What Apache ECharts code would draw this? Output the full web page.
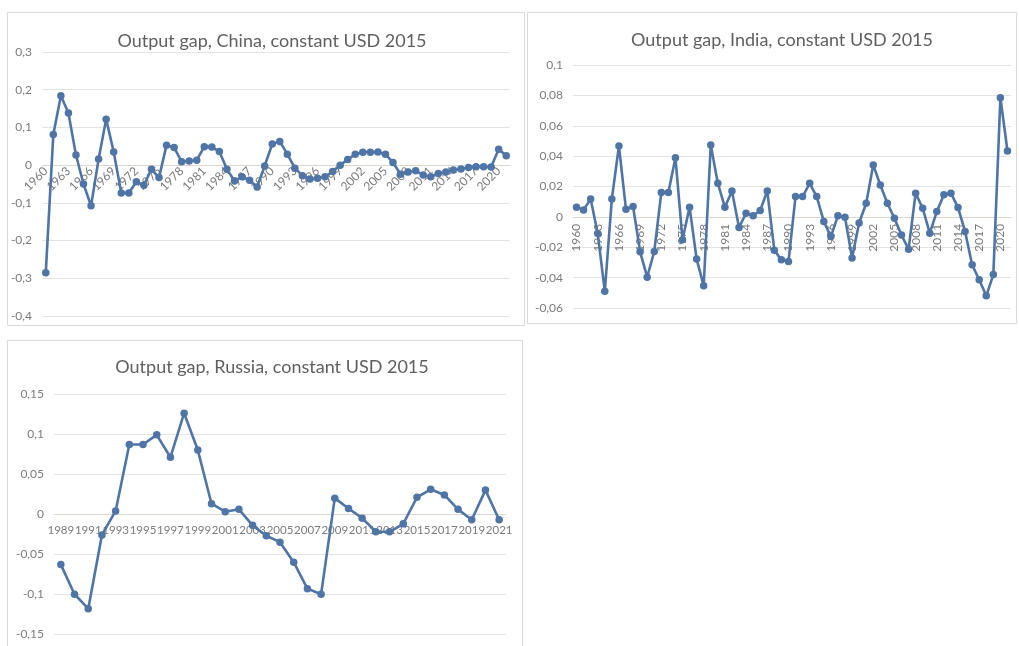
<!DOCTYPE html>
<html>
<head>
<meta charset="utf-8">
<title>Output gap</title>
<script src="https://cdn.jsdelivr.net/npm/echarts@6/dist/echarts.min.js"></script>
<style>
  html, body { margin: 0; padding: 0; background: #ffffff; }
  #chart { width: 1019px; height: 646px; }
</style>
</head>
<body>
<div id="chart"></div>
<script>
// Output gap estimates (share of potential output), constant USD 2015
const yearsLong = [
  '1960','1961','1962','1963','1964','1965','1966','1967','1968','1969',
  '1970','1971','1972','1973','1974','1975','1976','1977','1978','1979',
  '1980','1981','1982','1983','1984','1985','1986','1987','1988','1989',
  '1990','1991','1992','1993','1994','1995','1996','1997','1998','1999',
  '2000','2001','2002','2003','2004','2005','2006','2007','2008','2009',
  '2010','2011','2012','2013','2014','2015','2016','2017','2018','2019',
  '2020','2021'
];
const yearsRussia = [
  '1989','1990','1991','1992','1993','1994','1995','1996','1997','1998',
  '1999','2000','2001','2002','2003','2004','2005','2006','2007','2008',
  '2009','2010','2011','2012','2013','2014','2015','2016','2017','2018',
  '2019','2020','2021'
];
const chinaGap = [
  -0.285, 0.081, 0.184, 0.138, 0.027, -0.050, -0.108, 0.016, 0.122, 0.035,
  -0.074, -0.074, -0.044, -0.053, -0.011, -0.033, 0.053, 0.047, 0.009, 0.011,
  0.013, 0.049, 0.048, 0.036, -0.011, -0.042, -0.031, -0.040, -0.058, -0.002,
  0.056, 0.063, 0.029, -0.008, -0.028, -0.037, -0.035, -0.031, -0.017, 0.000,
  0.015, 0.029, 0.034, 0.034, 0.035, 0.029, 0.007, -0.024, -0.018, -0.015,
  -0.026, -0.031, -0.022, -0.018, -0.013, -0.010, -0.006, -0.004, -0.004, -0.005,
  0.042, 0.025
];
const indiaGap = [
  0.0064, 0.0046, 0.0118, -0.0110, -0.0490, 0.0118, 0.0467, 0.0050, 0.0068, -0.0230,
  -0.0397, -0.0228, 0.0160, 0.0160, 0.0390, -0.0150, 0.0064, -0.0278, -0.0454, 0.0474,
  0.0221, 0.0064, 0.0171, -0.0070, 0.0024, 0.0007, 0.0042, 0.0171, -0.0220, -0.0283,
  -0.0294, 0.0134, 0.0134, 0.0221, 0.0134, -0.0030, -0.0130, 0.0007, -0.0002, -0.0270,
  -0.0040, 0.0090, 0.0342, 0.0210, 0.0090, -0.0009, -0.0120, -0.0213, 0.0156, 0.0057,
  -0.0107, 0.0035, 0.0145, 0.0156, 0.0061, -0.0096, -0.0316, -0.0414, -0.0520, -0.0380,
  0.0785, 0.0434
];
const russiaGap = [
  -0.063, -0.100, -0.118, -0.026, 0.004, 0.087, 0.087, 0.099, 0.071, 0.126,
  0.080, 0.013, 0.003, 0.006, -0.014, -0.027, -0.035, -0.060, -0.093, -0.100,
  0.020, 0.007, -0.005, -0.022, -0.022, -0.012, 0.021, 0.031, 0.024, 0.006,
  -0.007, 0.030, -0.007
];
const titles = [
  'Output gap, China, constant USD 2015',
  'Output gap, India, constant USD 2015',
  'Output gap, Russia, constant USD 2015'
];
// Value-axis ranges: [min, max, step]
const chinaRange = [-0.4, 0.3, 0.1];
const indiaRange = [-0.06, 0.1, 0.02];
const russiaRange = [-0.15, 0.15, 0.05];

const FONT = 'Lato, "Open Sans", sans-serif';
const LINE = '#4f74a6';
const GRID_LINE = '#e4e4e4';
const AXIS_LINE = '#ddd6cf';
const LABEL = '#7b7b7b';
const TITLE = '#5f5f5f';

// Panel plot areas
const grids = [
  { left: 42, top: 52, width: 468, height: 264 },
  { left: 573, top: 65, width: 438, height: 243 },
  { left: 54, top: 394, width: 452, height: 240.3 }
];

// Decimal comma, general number format
function commaFmt(v) {
  return String(+v.toFixed(4)).replace('.', ',');
}

function yAxis(gridIndex, range) {
  return {
    type: 'value', gridIndex, min: range[0], max: range[1], interval: range[2],
    axisLine: { show: false }, axisTick: { show: false },
    splitLine: { lineStyle: { color: GRID_LINE, width: 1 } },
    axisLabel: { formatter: commaFmt, color: LABEL, fontSize: 12, fontFamily: FONT, margin: 10 }
  };
}

// Category axis drawn across the zero level of the value axis
function xAxis(gridIndex, data, range, labelOpts) {
  const h = grids[gridIndex].height;
  const zeroFromBottom = h * (0 - range[0]) / (range[1] - range[0]);
  return {
    type: 'category', gridIndex, data, boundaryGap: true,
    position: 'bottom', offset: -zeroFromBottom,
    axisLine: { onZero: false, lineStyle: { color: AXIS_LINE, width: 1 } },
    axisTick: { show: false },
    axisLabel: Object.assign({ color: LABEL, fontSize: 12, fontFamily: FONT, hideOverlap: false }, labelOpts)
  };
}

function lineSeries(idx, data) {
  return {
    type: 'line', xAxisIndex: idx, yAxisIndex: idx, data,
    symbol: 'circle', symbolSize: 7.5, showSymbol: true, showAllSymbol: true,
    lineStyle: { color: LINE, width: 2.6 },
    itemStyle: { color: LINE },
    z: 3,
    animation: false
  };
}

function titleAt(text, cx, top) {
  return {
    text, left: cx, top, textAlign: 'center',
    textStyle: { color: TITLE, fontSize: 18, fontWeight: 'normal', fontFamily: FONT }
  };
}

const chart = echarts.init(document.getElementById('chart'), null, { renderer: 'canvas' });
chart.setOption({
  backgroundColor: '#ffffff',
  animation: false,
  title: [
    titleAt(titles[0], 267, 27),
    titleAt(titles[1], 777, 26),
    titleAt(titles[2], 267, 353)
  ],
  graphic: [
    { type: 'rect', shape: { x: 7.5, y: 12.5, width: 517, height: 313 }, style: { fill: 'none', stroke: '#d9d9d9', lineWidth: 1 }, silent: true },
    { type: 'rect', shape: { x: 527.5, y: 12.5, width: 489, height: 311 }, style: { fill: 'none', stroke: '#d9d9d9', lineWidth: 1 }, silent: true },
    { type: 'rect', shape: { x: 7.5, y: 340.5, width: 515, height: 320 }, style: { fill: 'none', stroke: '#d9d9d9', lineWidth: 1 }, silent: true }
  ],
  grid: grids,
  xAxis: [
    xAxis(0, yearsLong, chinaRange, { interval: 2, rotate: 45, margin: 4 }),
    xAxis(1, yearsLong, indiaRange, { interval: 2, rotate: 90, margin: 7 }),
    xAxis(2, yearsRussia, russiaRange, {
      interval: 1, rotate: 0, margin: 10, fontSize: 11.5,
      showMinLabel: true, showMaxLabel: true
    })
  ],
  yAxis: [
    yAxis(0, chinaRange),
    yAxis(1, indiaRange),
    yAxis(2, russiaRange)
  ],
  series: [
    lineSeries(0, chinaGap),
    lineSeries(1, indiaGap),
    lineSeries(2, russiaGap)
  ]
});
</script>
</body>
</html>
